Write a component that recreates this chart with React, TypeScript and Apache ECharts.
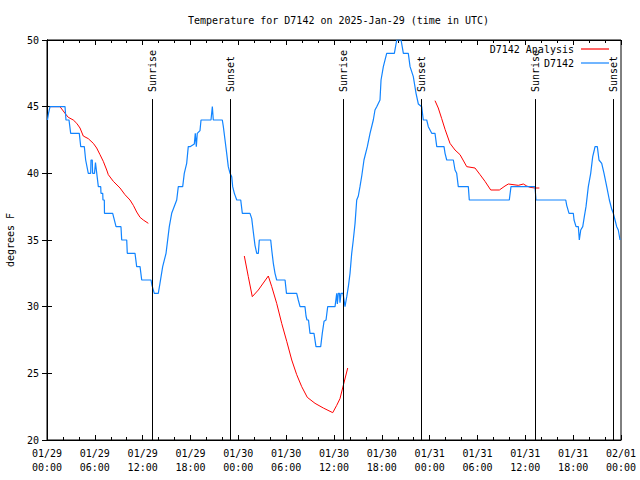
import React, { useEffect, useRef } from 'react';
import * as echarts from 'echarts';

// X values are hours since 2025-01-29 00:00 UTC
const xTickLabels = [
  '01/29\n00:00', '01/29\n06:00', '01/29\n12:00', '01/29\n18:00',
  '01/30\n00:00', '01/30\n06:00', '01/30\n12:00', '01/30\n18:00',
  '01/31\n00:00', '01/31\n06:00', '01/31\n12:00', '01/31\n18:00',
  '02/01\n00:00',
];

const sunHours = [13.21, 22.99, 37.17, 46.93, 61.25, 71.04];
const sunLabels = ['Sunrise', 'Sunset', 'Sunrise', 'Sunset', 'Sunrise', 'Sunset'];

const obsHours = [
  0.06, 0.19, 0.38, 2.26, 2.38, 2.76, 2.97, 4.05, 4.23, 4.68, 4.85, 5.18, 5.48, 5.52, 5.68, 5.72, 5.96, 6.08,
  6.44, 6.74, 6.77, 6.99, 7.02, 7.19, 7.21, 8.24, 8.66, 9.28, 9.37, 10.0, 10.07, 11.04, 11.25, 11.67, 11.88,
  13.05, 13.17, 13.46, 13.96, 14.17, 14.51, 14.93, 15.34, 15.64, 16.27, 16.47, 17.02, 17.22, 17.52, 17.72,
  17.94, 18.48, 18.6, 18.73, 18.85, 19.19, 19.32, 20.57, 20.74, 20.86, 21.99, 22.12, 22.33, 22.54, 22.74,
  22.96, 23.17, 23.29, 23.5, 23.8, 24.3, 24.5, 25.46, 25.68, 25.88, 26.09, 26.31, 26.51, 26.63, 28.06, 28.19,
  28.39, 28.6, 28.81, 29.86, 30.04, 31.32, 31.52, 31.74, 32.36, 32.49, 32.61, 32.8, 32.99, 33.49, 33.74,
  34.33, 34.53, 34.75, 35.0, 35.21, 36.13, 36.34, 36.42, 36.54, 36.69, 36.75, 36.88, 37.13, 37.26, 37.38,
  37.6, 37.8, 38.01, 38.22, 38.42, 38.64, 38.85, 39.05, 39.26, 39.48, 39.76, 40.18, 40.52, 40.93, 41.14,
  41.36, 41.77, 41.9, 42.19, 42.61, 43.57, 43.87, 44.41, 44.7, 45.32, 45.54, 45.95, 46.29, 46.58, 47.0,
  47.2, 47.63, 47.83, 48.26, 48.67, 48.89, 49.8, 49.93, 50.14, 50.97, 51.18, 51.39, 51.59, 52.85, 52.97,
  57.99, 58.2, 61.21, 61.34, 65.07, 65.19, 65.48, 66.02, 66.11, 66.36, 66.65, 66.77, 66.95, 67.2, 67.4,
  67.61, 67.9, 68.2, 68.45, 68.65, 68.74, 69.03, 69.24, 69.58, 69.87, 70.21, 70.54, 70.84, 71.04, 71.25,
  71.46, 71.66, 71.88,
];
const obsTemps = [
  44, 44.5, 45, 45, 44, 44, 43, 43, 42, 42, 41, 40, 40, 41, 41, 40, 40, 40.8,
  39, 39, 38.5, 38.5, 38, 38, 37, 37, 36, 36, 35, 35, 34, 34, 33, 33, 32,
  32, 31.6, 31, 31, 31.75, 33, 34, 36, 37, 38, 39, 39, 40, 40.75, 42,
  42, 42.2, 43, 42, 43, 43.2, 44, 44, 45, 44, 44, 43.5, 42.5, 41.5, 40.5,
  40, 39.75, 39, 38.5, 38, 38, 37, 37, 36.6, 35.6, 34.6, 34, 34, 35, 35, 34.25,
  33.25, 32.5, 32, 32, 31, 31, 30.5, 30, 30, 29.3, 29, 29, 28, 28, 27,
  27, 28, 28.9, 29, 30, 30, 31, 30.2, 31, 31, 30.3, 31, 31, 30.5, 30,
  30.75, 31.5, 32.5, 34, 35, 36.25, 38, 38.3, 39, 39.8, 41, 42, 43, 44, 44.75,
  45, 45.5, 47, 48, 49, 49, 50, 50, 49, 49, 48, 47.25, 46, 45.2, 45,
  44, 44, 43.5, 43, 43, 42, 42, 41.5, 41, 41, 40.25, 40, 39, 39, 38,
  38, 39, 39, 38, 38, 37.6, 37, 37, 36.5, 36, 36, 35, 35.75, 36, 36.75,
  37.5, 39, 40, 41.25, 41.75, 42, 42, 41, 40.75, 40, 39, 38, 37.3, 37, 36.5,
  36, 35.75, 35,
];

const analysis1Hours = [0.38, 1.63, 2.26, 2.67, 3.3, 3.73, 4.14, 4.55, 5.18, 5.81, 6.23, 6.65, 7.06, 7.49, 7.69, 8.32, 9.16, 9.78, 10.41, 10.83, 11.25, 11.67, 12.08, 12.71];
const analysis1Temps = [45, 45, 44.5, 44.2, 44, 43.75, 43.4, 42.8, 42.6, 42.25, 41.9, 41.4, 40.9, 40.25, 39.9, 39.4, 38.9, 38.4, 38, 37.6, 37.1, 36.7, 36.5, 36.25];
const analysis2Hours = [24.75, 25.25, 25.75, 26.51, 27.76, 28.19, 28.81, 29.44, 30.07, 30.7, 31.32, 31.95, 32.65, 33.62, 34.66, 35.84, 36.34, 36.75, 37.17, 37.72];
const analysis2Temps = [33.8, 32.25, 30.75, 31.25, 32.3, 31.5, 30.25, 28.75, 27.4, 26, 24.9, 24, 23.2, 22.75, 22.4, 22.05, 22.6, 23.1, 24.1, 25.4];
const analysis3Hours = [48.67, 49.08, 49.51, 49.93, 50.55, 51.18, 51.81, 52.65, 53.69, 54.32, 54.94, 55.66, 56.74, 57.45, 57.87, 59.12, 59.75, 60.18, 60.59, 61.21, 61.76];
const analysis3Temps = [45.45, 44.9, 44.1, 43.3, 42.25, 41.75, 41.4, 40.5, 40.4, 39.9, 39.4, 38.75, 38.75, 39.05, 39.2, 39.1, 39.2, 39.05, 38.95, 38.9, 38.9];

const FONT = 'DejaVu Sans Mono';

function zip(h: number[], t: number[]) {
  return h.map((v, i) => [v, t[i]]);
}

export default function App() {
  const ref = useRef<HTMLDivElement>(null);
  useEffect(() => {
    if (!ref.current) return;
    const chart = echarts.init(ref.current, null, { renderer: 'svg' });
    const analysisData: any[] = [
      ...zip(analysis1Hours, analysis1Temps),
      [18, '-'],
      ...zip(analysis2Hours, analysis2Temps),
      [43, '-'],
      ...zip(analysis3Hours, analysis3Temps),
    ];
    const baseX = {
      type: 'value',
      min: 0,
      max: 72,
      interval: 6,
      axisLine: { show: true, lineStyle: { color: '#000', width: 1 } },
      axisTick: { show: true, inside: true, length: 5, lineStyle: { color: '#000' } },
      minorTick: { show: true, splitNumber: 3, length: 3, lineStyle: { color: '#000' } },
      splitLine: { show: false },
    };
    const baseY = {
      type: 'value',
      min: 20,
      max: 50,
      interval: 5,
      axisLine: { show: true, lineStyle: { color: '#000', width: 1 } },
      axisTick: { show: true, inside: true, length: 5, lineStyle: { color: '#000' } },
      splitLine: { show: false },
    };
    chart.setOption({
      animation: false,
      backgroundColor: '#fff',
      title: {
        text: 'Temperature for D7142 on 2025-Jan-29 (time in UTC)',
        left: 183,
        top: 10,
        textStyle: { fontFamily: FONT, fontSize: 10, fontWeight: 'normal', color: '#000' },
      },
      legend: {
        orient: 'vertical',
        right: 31,
        top: 43,
        padding: 0,
        align: 'right',
        icon: 'rect',
        itemWidth: 28,
        itemHeight: 1.2,
        itemGap: 2,
        textStyle: { fontFamily: FONT, fontSize: 10, color: '#000', lineHeight: 12, padding: [0, 2, 0, 0] },
        data: ['D7142 Analysis', 'D7142'],
      },
      grid: {
        left: 47, right: 19, top: 40, bottom: 40,
        show: true, borderColor: '#000', borderWidth: 1,
        containLabel: false,
        outerBoundsMode: 'none',
      },
      xAxis: [
        {
          ...baseX,
          position: 'bottom',
          axisLabel: {
            formatter: (v: number) => xTickLabels[Math.round(v / 6)] ?? '',
            fontFamily: FONT,
            fontSize: 10,
            color: '#000',
            lineHeight: 14,
            margin: 6,
          },
        },
        { ...baseX, position: 'top', axisLabel: { show: false } },
      ],
      yAxis: [
        {
          ...baseY,
          position: 'left',
          name: 'degrees F',
          nameLocation: 'middle',
          nameRotate: 90,
          nameGap: 32,
          nameTextStyle: { fontFamily: FONT, fontSize: 10, color: '#000' },
          axisLabel: { fontFamily: FONT, fontSize: 10, color: '#000', margin: 8 },
        },
        { ...baseY, position: 'right', axisLabel: { show: false } },
      ],
      series: [
        {
          name: 'D7142 Analysis',
          type: 'line',
          data: analysisData,
          showSymbol: false,
          symbol: 'none',
          connectNulls: false,
          color: '#ff0000',
          lineStyle: { color: '#ff0000', width: 1 },
          z: 3,
        },
        {
          name: 'D7142',
          type: 'line',
          data: zip(obsHours, obsTemps),
          showSymbol: false,
          symbol: 'none',
          color: '#1184ff',
          lineStyle: { color: '#1184ff', width: 1.2 },
          z: 4,
        },
        {
          name: 'sun',
          type: 'custom',
          data: sunHours.map((h) => [h, 20]),
          encode: { x: 0, y: 1 },
          clip: false,
          z: 5,
          renderItem: (params: any, api: any) => {
            const x = api.value(0);
            const top = api.coord([x, 45.57]);
            const bot = api.coord([x, 20]);
            const px = Math.round(top[0]) + 0.5;
            return {
              type: 'group',
              children: [
                {
                  type: 'line',
                  shape: { x1: px, y1: top[1], x2: px, y2: bot[1] },
                  style: { stroke: '#000', lineWidth: 1 },
                },
                {
                  type: 'text',
                  x: px,
                  y: top[1] - 7,
                  rotation: Math.PI / 2,
                  style: {
                    text: sunLabels[params.dataIndex],
                    x: 0,
                    y: 0,
                    align: 'left',
                    verticalAlign: 'middle',
                    fontFamily: FONT,
                    fontSize: 10,
                    fill: '#000',
                  },
                },
              ],
            };
          },
        },
      ],
    });
    return () => chart.dispose();
  }, []);
  return (
    <div
      ref={ref}
      style={{ position: 'absolute', left: 0, top: 0, width: 640, height: 480, background: '#fff' }}
    />
  );
}
